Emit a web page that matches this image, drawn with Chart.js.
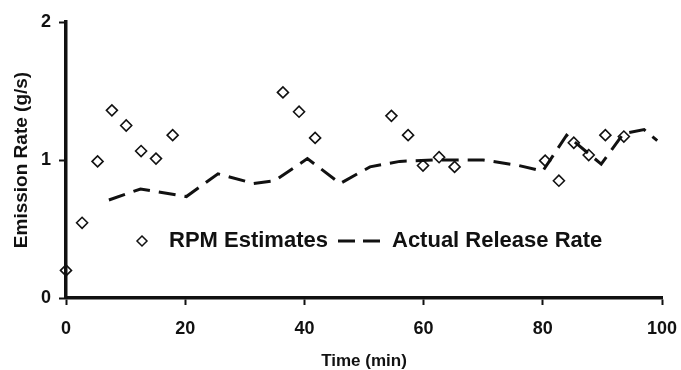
<!DOCTYPE html>
<html>
<head>
<meta charset="utf-8">
<script src="https://cdn.jsdelivr.net/npm/chart.js@4"></script>
<style>
  html, body { margin: 0; padding: 0; background: #fff; }
  #wrap { width: 681px; height: 370px; }
</style>
</head>
<body>
<div id="wrap"><canvas id="chart" width="681" height="370"></canvas></div>
<script>
// RPM estimates (diamonds)
const rpmTimes  = [0, 2.7, 5.3, 7.7, 10.1, 12.6, 15.1, 17.9, 36.4, 39.1, 41.8, 54.6, 57.4, 59.9, 62.6, 65.2, 80.4, 82.7, 85.2, 87.7, 90.5, 93.6];
const rpmValues = [0.20, 0.545, 0.99, 1.36, 1.25, 1.065, 1.01, 1.18, 1.49, 1.35, 1.16, 1.32, 1.18, 0.96, 1.02, 0.95, 0.995, 0.85, 1.125, 1.036, 1.18, 1.17];

// actual release rate (dashed line)
const actualTimes  = [7.2, 12.5, 20.2, 25.5, 31.5, 35, 40.5, 46, 51, 56, 62, 70, 76, 80, 84, 89.8, 93.5, 97, 99.2];
const actualValues = [0.71, 0.79, 0.735, 0.90, 0.83, 0.85, 1.01, 0.83, 0.95, 0.99, 1.0, 1.0, 0.96, 0.92, 1.18, 0.97, 1.19, 1.22, 1.14];

const xTicks = [0, 20, 40, 60, 80, 100];
const yTicks = [0, 1, 2];
const legendLabels = ['RPM Estimates', 'Actual Release Rate'];

const FONT = "'Liberation Sans', Arial, sans-serif";
const INK = '#111';

function toPoints(xs, ys) {
    return xs.map((x, i) => ({ x: x, y: ys[i] }));
}

// legend drawn inside the plot, like the original figure
const insideLegend = {
    id: 'insideLegend',
    afterDraw(chart) {
        const ctx = chart.ctx;
        const y = 241;
        ctx.save();
        ctx.strokeStyle = INK;
        ctx.fillStyle = INK;
        // diamond
        ctx.lineWidth = 1.5;
        ctx.beginPath();
        ctx.moveTo(142, y - 5);
        ctx.lineTo(147, y);
        ctx.lineTo(142, y + 5);
        ctx.lineTo(137, y);
        ctx.closePath();
        ctx.stroke();
        ctx.font = 'bold 22px ' + FONT;
        ctx.textBaseline = 'middle';
        ctx.fillText(legendLabels[0], 169, y);
        // dashed sample
        ctx.lineWidth = 3;
        ctx.setLineDash([17, 8]);
        ctx.beginPath();
        ctx.moveTo(338, y);
        ctx.lineTo(381, y);
        ctx.stroke();
        ctx.setLineDash([]);
        ctx.fillText(legendLabels[1], 392, y);
        ctx.restore();
    }
};

new Chart(document.getElementById('chart'), {
    type: 'scatter',
    data: {
        datasets: [{
            label: legendLabels[0],
            data: toPoints(rpmTimes, rpmValues),
            pointStyle: 'rectRot',
            pointRadius: 5.5,
            pointBorderWidth: 1.6,
            pointBorderColor: INK,
            pointBackgroundColor: 'rgba(255,255,255,0)',
            showLine: false,
            clip: false
        }, {
            label: legendLabels[1],
            data: toPoints(actualTimes, actualValues),
            showLine: true,
            borderColor: INK,
            borderWidth: 3,
            borderDash: [17, 9],
            pointRadius: 0,
            tension: 0,
            clip: false
        }]
    },
    options: {
        responsive: false,
        animation: false,
        layout: { padding: { top: 22, right: 19, bottom: 0, left: 0 } },
        plugins: {
            legend: { display: false },
            tooltip: { enabled: false }
        },
        scales: {
            x: {
                type: 'linear',
                min: 0,
                max: 100,
                afterBuildTicks: s => { s.ticks = xTicks.map(v => ({ value: v })); },
                afterFit: s => { s.height = 72; s.paddingLeft = 0; s.paddingRight = 0; },
                border: { color: INK, width: 3.5 },
                grid: { drawOnChartArea: false, drawTicks: true, tickLength: 7, tickColor: INK, tickWidth: 2 },
                ticks: { color: INK, padding: 13, font: { family: FONT, size: 18, weight: 'bold' } },
                title: {
                    display: true,
                    text: 'Time (min)',
                    color: INK,
                    padding: { top: 0, bottom: -2 },
                    font: { family: FONT, size: 17, weight: 'bold' }
                }
            },
            y: {
                type: 'linear',
                min: 0,
                max: 2,
                afterBuildTicks: s => { s.ticks = yTicks.map(v => ({ value: v })); },
                afterFit: s => { s.width = 66; },
                border: { color: INK, width: 3.5 },
                grid: { drawOnChartArea: false, drawTicks: true, tickLength: 7, tickColor: INK, tickWidth: 2 },
                ticks: { color: INK, padding: 8, font: { family: FONT, size: 18, weight: 'bold' } },
                title: {
                    display: true,
                    text: 'Emission Rate (g/s)',
                    color: INK,
                    padding: { top: 10, bottom: 0 },
                    font: { family: FONT, size: 19, weight: 'bold' }
                }
            }
        }
    },
    plugins: [insideLegend]
});
</script>
</body>
</html>
